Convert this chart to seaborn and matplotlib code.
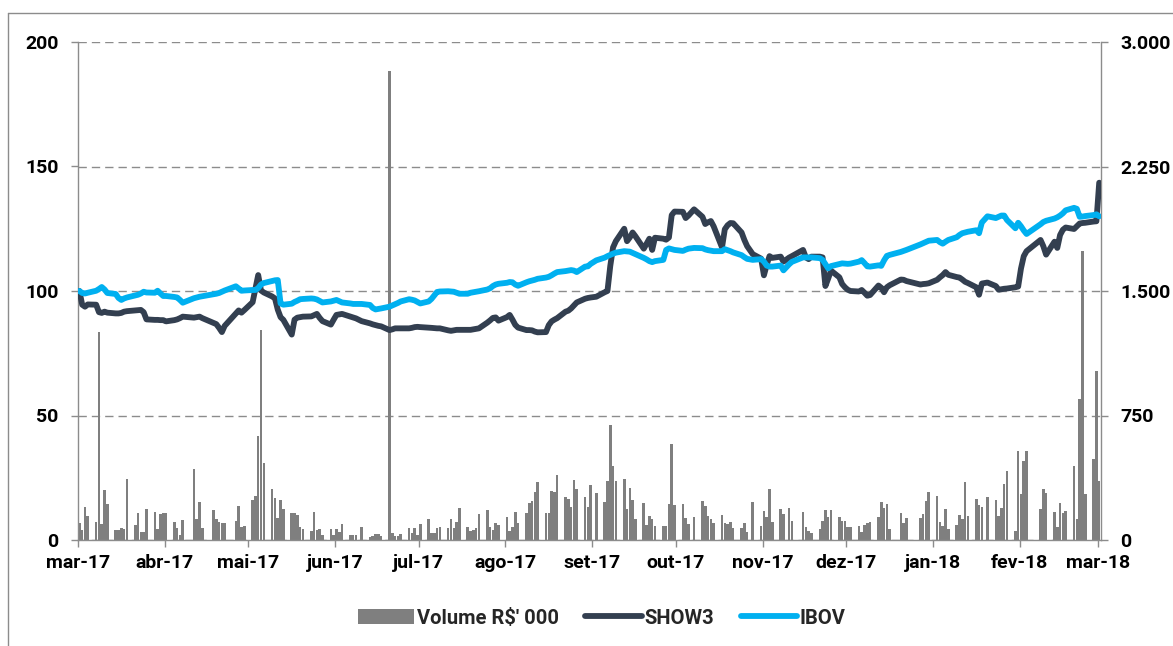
import numpy as np
import pandas as pd
import matplotlib
matplotlib.use("Agg")
import matplotlib.pyplot as plt
import matplotlib.dates as mdates
from matplotlib.lines import Line2D
from matplotlib.patches import Patch
import seaborn as sns

# ---------------- data ----------------
market_holidays = ["2017-04-14", "2017-04-21", "2017-05-01", "2017-06-15", "2017-09-07",
                   "2017-10-12", "2017-11-02", "2017-11-15", "2017-11-20", "2017-12-25",
                   "2017-12-29", "2018-01-01", "2018-01-25", "2018-02-12", "2018-02-13"]
trade_days = pd.bdate_range("2017-03-07", "2018-03-07", freq="C", holidays=market_holidays)

# Volume R$' 000 (right axis)
volume = [
    # mar-17
    104, 60, 200, 144, 110, 1253, 98, 300, 218, 58, 58, 70, 68, 370, 90, 160, 48, 46, 185,
    # abr-17
    170, 64, 158, 164, 164, 110, 70, 30, 120, 426, 126, 230, 70, 180, 124, 110, 100, 104,
    # mai-17
    116, 204, 80, 84, 240, 265, 626, 1265, 462, 310, 254, 134, 240, 186, 164, 160, 150, 80, 64,
    56, 170, 60,
    # jun-17
    64, 30, 64, 30, 66, 46, 96, 30, 30, 30, 80, 20, 26, 36, 34, 22, 2825, 40, 24, 24, 34,
    # jul-17
    70, 40, 70, 30, 95, 126, 44, 40, 70, 76, 74, 124, 70, 108, 194, 76, 56, 60, 74, 154, 180,
    # ago-17
    80, 60, 104, 90, 140, 54, 80, 170, 104, 160, 220, 234, 290, 352, 160, 164, 294, 290, 394,
    260, 246, 196, 360,
    # set-17
    310, 262, 200, 330, 286, 230, 356, 694, 446, 356, 370, 184, 314, 240, 124, 220, 90, 144, 124, 84,
    # out-17
    86, 86, 214, 580, 208, 216, 130, 96, 140, 234, 204, 146, 124, 100, 150, 100, 96, 110, 70,
    70, 104,
    # nov-17
    50, 230, 86, 174, 136, 310, 106, 186, 156, 194, 116, 170, 76, 54, 40, 64, 116, 180, 140,
    # dez-17
    180, 136, 116, 116, 80, 80, 84, 50, 88, 100, 106, 136, 230, 190, 214, 64, 160, 104, 130,
    # jan-18
    130, 154, 234, 290, 266, 106, 84, 184, 64, 90, 150, 124, 350, 146, 246, 208, 200, 258,
    240, 144, 194,
    # fev-18
    340, 416, 56, 534, 280, 474, 536, 186, 310, 284, 166, 80, 224, 160, 176, 446, 124, 848,
    # mar-18
    1740, 280, 490, 1018, 354,
]

# SHOW3 rebased to 100 (left axis)
show3 = [
    # mar-17
    100.0, 94.5, 93.7, 94.6, 94.5, 91.5, 91.2, 91.7, 91.3, 91.0, 91.0, 91.2, 91.7, 91.9,
    92.2, 92.3, 92.4, 91.5, 88.6,
    # abr-17
    88.4, 88.4, 88.3, 88.3, 87.8, 88.3, 88.6, 89.1, 89.7, 89.3, 89.5, 89.7, 89.1,
    87.2, 86.7, 85.2, 83.5, 86.0,
    # mai-17
    91.0, 92.2, 91.3, 92.3, 95.5, 101.0, 106.4, 100.2, 99.4, 97.8, 97.0, 92.5, 89.5, 88.4,
    82.5, 88.5, 89.3, 89.5, 89.7, 89.8, 90.3, 90.8,
    # jun-17
    89.2, 87.9, 86.5, 88.5, 90.4, 90.6, 90.8, 89.7, 89.3, 89.0, 87.9, 87.0, 86.6, 86.3, 86.0, 85.8,
    84.3, 84.6, 85.0, 85.0, 85.0,
    # jul-17
    85.0, 85.2, 85.5, 85.6, 85.5, 85.3, 85.2, 85.1, 85.0, 85.0, 84.2, 84.0, 84.2, 84.4, 84.4,
    84.4, 84.4, 84.6, 84.8, 85.0, 87.3,
    # ago-17
    88.2, 89.2, 89.4, 88.1, 89.5, 90.4, 88.5, 86.4, 85.3, 84.3, 84.3, 84.2, 83.7, 83.4,
    83.5, 86.3, 87.8, 88.5, 89.1, 91.7, 92.1, 93.0, 94.2,
    # set-17
    95.4, 96.9, 97.2, 97.4, 97.7, 99.5, 100.0, 110.0, 117.5, 120.0, 125.0, 120.0, 121.5, 123.5,
    122.0, 117.0, 119.0, 121.0, 116.5, 121.4,
    # out-17
    121.0, 120.6, 121.5, 130.5, 131.9, 131.8, 129.3, 130.3, 132.8, 129.8, 126.9, 127.6, 128.1,
    126.0, 117.5, 124.8, 126.4, 127.3, 127.2, 123.5, 120.5,
    # nov-17
    118.0, 114.8, 113.0, 106.3, 110.5, 114.0, 113.3, 113.8, 111.8, 113.4, 114.0,
    116.5, 113.5, 112.8, 113.8, 113.8, 113.5, 102.0, 105.0,
    # dez-17
    108.2, 105.5, 102.8, 101.5, 100.5, 100.0, 99.8, 100.4, 99.3, 98.1, 98.4,
    102.2, 101.3, 99.5, 101.5, 102.3, 104.6, 104.5, 104.0,
    # jan-18
    102.6, 102.8, 102.9, 103.1, 104.5, 105.5, 106.4, 107.6, 106.5, 105.6, 105.4, 104.6, 103.7,
    103.2, 101.5, 98.5, 103.0, 103.4, 102.0, 100.5, 100.7,
    # fev-18
    100.9, 101.0, 101.5, 101.8, 109.0, 114.0, 116.0, 120.5, 118.0, 114.6,
    119.8, 117.3, 122.5, 124.6, 125.5, 124.9, 126.0, 127.1,
    # mar-18
    127.3, 127.4, 127.9, 128.0, 143.5,
]

# IBOV rebased to 100 (left axis)
ibov = [
    # mar-17
    100.0, 99.2, 99.0, 99.3, 100.1, 100.8, 101.6, 100.6, 99.2, 98.8, 97.2, 96.4, 97.0, 97.4,
    98.2, 98.5, 99.0, 99.7, 99.4,
    # abr-17
    99.3, 100.1, 99.0, 98.0, 98.0, 97.6, 97.4, 96.4, 95.3, 97.1, 97.4, 97.7, 97.9,
    98.7, 98.9, 99.2, 99.7, 100.2,
    # mai-17
    101.9, 101.0, 100.1, 100.2, 100.4, 100.4, 101.2, 102.6, 103.2, 104.0, 104.3, 104.4, 95.0, 94.5,
    94.9, 95.6, 96.1, 96.7, 96.8, 97.0, 96.9, 96.6,
    # jun-17
    96.0, 95.4, 95.8, 96.1, 96.4, 95.9, 95.4, 95.0, 94.8, 94.8, 94.8, 94.4, 93.2, 92.6, 92.8, 93.0,
    93.7, 94.2, 94.7, 95.2, 95.8,
    # jul-17
    96.7, 96.5, 96.2, 95.6, 95.0, 95.8, 96.8, 98.2, 99.6, 99.8, 99.9, 99.8, 99.7, 99.3, 98.9,
    98.9, 99.3, 99.5, 99.7, 99.9, 100.6,
    # ago-17
    101.1, 102.0, 102.6, 102.9, 103.3, 103.6, 103.5, 102.6, 102.1, 103.5, 103.9, 104.2, 104.5,
    104.9, 105.4, 105.7, 106.3, 107.0, 107.6, 108.0, 108.2, 108.4, 108.2,
    # set-17
    107.6, 109.8, 109.9, 110.9, 112.3, 113.4, 114.0, 114.5, 115.0, 115.4, 116.0, 115.9, 115.8,
    115.3, 114.8, 113.3, 112.7, 112.0, 111.6, 112.0,
    # out-17
    112.5, 116.5, 117.1, 116.8, 116.5, 116.1, 116.6, 117.0, 117.3, 117.2, 116.7, 116.4, 116.2,
    116.0, 116.0, 116.8, 116.4, 116.0, 115.5, 114.4, 113.6,
    # nov-17
    112.9, 112.5, 112.8, 111.8, 110.2, 109.8, 109.8, 110.2, 108.3, 110.7, 111.7,
    113.5, 113.5, 113.5, 113.5, 113.2, 112.5, 110.8, 109.1,
    # dez-17
    110.0, 110.8, 111.1, 111.0, 110.9, 111.0, 111.8, 112.4, 111.2, 109.9, 109.8,
    110.3, 110.1, 112.3, 114.1, 114.5, 115.7, 116.1, 116.5,
    # jan-18
    118.7, 119.2, 119.7, 120.2, 120.5, 119.6, 119.0, 119.8, 120.5, 121.6, 122.5, 123.2, 123.5,
    123.8, 124.4, 123.2, 127.5, 130.0, 129.3, 129.8, 130.3,
    # fev-18
    130.3, 128.5, 125.2, 127.4, 126.0, 124.3, 122.9, 126.8, 127.7, 128.2,
    129.1, 129.6, 130.3, 131.2, 132.4, 133.4, 133.0, 129.8,
    # mar-18
    129.9, 130.1, 130.5, 130.8, 130.0,
]

month_tick_dates = pd.date_range("2017-03-07", periods=13, freq=pd.DateOffset(months=1))
month_labels = ["mar-17", "abr-17", "mai-17", "jun-17", "jul-17", "ago-17", "set-17",
                "out-17", "nov-17", "dez-17", "jan-18", "fev-18", "mar-18"]
left_ticks = [0, 50, 100, 150, 200]
left_labels = ["0", "50", "100", "150", "200"]
right_ticks = [0, 750, 1500, 2250, 3000]
right_labels = ["0", "750", "1.500", "2.250", "3.000"]

assert len(volume) == len(trade_days) == len(show3) == len(ibov)

# ---------------- style ----------------
sns.set_theme(style="white")
plt.rcParams["font.family"] = ["Roboto", "DejaVu Sans"]
plt.rcParams["font.weight"] = "bold"

VOL_COLOR = "#7F7F7F"
SHOW_COLOR = "#333F50"
IBOV_COLOR = "#00B0F0"
AXIS_GRAY = "#8C8C8C"
FS = 14
LEG_FS = 14.5

df = pd.DataFrame({
    "x": mdates.date2num(trade_days) + 0.5,
    "volume": volume,
    "SHOW3": show3,
    "IBOV": ibov,
})

W, H = 1173, 646
fig = plt.figure(figsize=(W / 100, H / 100), dpi=100)
ax_vol = fig.add_axes([78 / W, 1 - 540 / H, (1100.6 - 78) / W, (540 - 42) / H])
ax_px = ax_vol.twinx()

# volume bars (right scale)
ax_vol.bar(df["x"], df["volume"], width=0.92, color=VOL_COLOR, linewidth=0, zorder=2)
ax_vol.set_ylim(0, 3000)
ax_vol.yaxis.tick_right()
ax_vol.set_yticks(right_ticks)
ax_vol.set_yticklabels(right_labels)
ax_vol.set_axisbelow(True)
ax_vol.yaxis.grid(True, linestyle=(0, (6, 3.6)), color=AXIS_GRAY, linewidth=1.0)
ax_vol.xaxis.grid(False)

# price lines (left scale)
line_kw = dict(linewidth=4.2, solid_capstyle="round", solid_joinstyle="round")
sns.lineplot(data=df, x="x", y="SHOW3", ax=ax_px, color=SHOW_COLOR, estimator=None, **line_kw)
sns.lineplot(data=df, x="x", y="IBOV", ax=ax_px, color=IBOV_COLOR, estimator=None, **line_kw)
ax_px.set_ylim(0, 200)
ax_px.yaxis.tick_left()
ax_px.yaxis.set_label_position("left")
ax_px.set_yticks(left_ticks)
ax_px.set_yticklabels(left_labels)
ax_px.set_xlabel("")
ax_px.set_ylabel("")
ax_px.grid(False)

x0 = mdates.date2num(pd.Timestamp("2017-03-07"))
x1 = mdates.date2num(pd.Timestamp("2018-03-08"))
ax_vol.set_xlim(x0, x1)
ax_vol.set_xticks(mdates.date2num(month_tick_dates))
ax_vol.set_xticklabels(month_labels)
ax_vol.set_xlabel("")
ax_vol.set_ylabel("")

for a in (ax_vol, ax_px):
    for s in a.spines.values():
        s.set_visible(False)
for side in ("left", "right", "bottom"):
    ax_vol.spines[side].set_visible(True)
    ax_vol.spines[side].set_color(AXIS_GRAY)
    ax_vol.spines[side].set_linewidth(1.0)

ax_vol.tick_params(axis="y", which="major", direction="out", length=5, width=1,
                   color=AXIS_GRAY, pad=9, labelsize=FS, labelcolor="black",
                   right=True, left=False, labelright=True, labelleft=False)
ax_vol.tick_params(axis="x", which="major", direction="out", length=5, width=1,
                   color=AXIS_GRAY, pad=5, labelsize=FS, labelcolor="black", bottom=True)
ax_px.tick_params(axis="y", which="major", direction="out", length=5, width=1,
                  color=AXIS_GRAY, pad=9, labelsize=FS, labelcolor="black",
                  left=True, right=False, labelleft=True, labelright=False)

for lab in ax_vol.get_xticklabels() + ax_vol.get_yticklabels() + ax_px.get_yticklabels():
    lab.set_fontweight("bold")

# legend
handles = [
    Patch(facecolor=VOL_COLOR, edgecolor="none", label="Volume R$' 000"),
    Line2D([], [], color=SHOW_COLOR, label="SHOW3", **line_kw),
    Line2D([], [], color=IBOV_COLOR, label="IBOV", **line_kw),
]
leg = fig.legend(handles=handles, loc="center", bbox_to_anchor=(0.513, 1 - 618 / H), ncol=3,
                 frameon=False, prop={"size": LEG_FS, "weight": "bold"}, handlelength=2.8,
                 handletextpad=0.15, columnspacing=1.3, handleheight=0.7)

# outer frame (top and left edges visible)
fx, fy = 8.3 / W, 1 - 13.3 / H
fig.add_artist(Line2D([fx, 1.0], [fy, fy], transform=fig.transFigure, color=AXIS_GRAY, lw=1.0))
fig.add_artist(Line2D([fx, fx], [fy, 0.0], transform=fig.transFigure, color=AXIS_GRAY, lw=1.0))

fig.savefig("out.png", dpi=100, facecolor="white")
